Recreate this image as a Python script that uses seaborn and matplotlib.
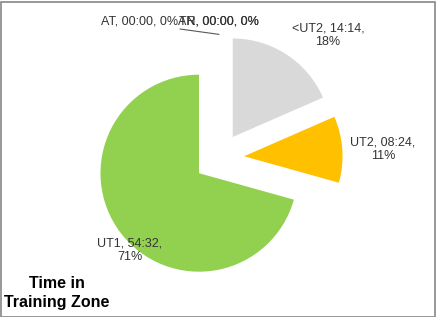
import matplotlib
matplotlib.use("Agg")
import matplotlib.pyplot as plt
import seaborn as sns
import numpy as np

# ---- data ----
categories = ["<UT2", "UT2", "UT1", "AT", "AN", "TR"]
durations = ["14:14", "08:24", "54:32", "00:00", "00:00", "00:00"]
minutes = [14 + 14/60, 8 + 24/60, 54 + 32/60, 0.0, 0.0, 0.0]
colors = ["#D9D9D9", "#FFC000", "#92D050", "#5B9BD5", "#ED7D31", "#A5A5A5"]
title_text = "Time in\nTraining Zone"

sns.set_theme(style="white")
plt.rcParams['font.family'] = ['Liberation Sans', 'DejaVu Sans']

W, H = 437, 317
fig = plt.figure(figsize=(W / 100, H / 100), dpi=100)
ax = fig.add_axes([0, 0, 1, 1])

R_PX = 98.5
CX, CY = 219.0, 158.0


def px(x, y):
    """pixel (y down) -> data coords (radius 1)"""
    return (x - CX) / R_PX, (CY - y) / R_PX


explode = [0.255] * len(minutes)
wedges, _ = ax.pie(minutes, colors=colors, explode=explode, startangle=90,
                   counterclock=False, radius=1.0, center=(0, 0),
                   wedgeprops=dict(linewidth=0))

x0, y1 = px(0, 0)
x1, y0 = px(W, H)
ax.set_xlim(x0, x1)
ax.set_ylim(y0, y1)
ax.set_aspect("equal", adjustable="box")
ax.axis("off")

total = sum(minutes)
labels = [f"{c}, {d}, {round(100 * m / total):.0f}%" for c, d, m in zip(categories, durations, minutes)]

fs = 9
# label placements (pixel centres)
pos = {
    "<UT2": (328, 35),
    "UT2": (383, 149),
    "UT1": (130, 250),
}
for cat, lab in zip(categories, labels):
    if cat in pos:
        parts = lab.split(", ")
        txt = f"{parts[0]}, {parts[1]},\n{parts[2]}"
        ax.text(*px(*pos[cat]), txt, ha="center", va="center", fontsize=fs,
                color="#333333", linespacing=1.2)

# zero-value labels
ax.text(*px(140, 22), labels[3], ha="center", va="center", fontsize=fs, color="#333333")
ax.text(*px(218, 22), labels[4], ha="center", va="center", fontsize=fs, color="#333333")
ax.text(*px(218.6, 22), labels[5], ha="center", va="center", fontsize=fs, color="#333333")

# leader line to the zero slice at top of pie
w_at = wedges[3]
ang = np.deg2rad(w_at.theta1)
ex, ey = w_at.center
tip = (ex + np.cos(ang) * w_at.r, ey + np.sin(ang) * w_at.r)
ax.plot([px(180, 29)[0], tip[0]], [px(180, 29)[1], tip[1]], color="#595959", lw=0.8)

# title
ax.text(*px(57, 293), title_text, ha="center", va="center", fontsize=11.5,
        fontweight="bold", color="black", linespacing=1.3)

# chart border
fig.patches.append(plt.Rectangle((0.5 / W, 0.5 / H), 1 - 2.5 / W, 1 - 2.5 / H,
                                 transform=fig.transFigure, fill=False,
                                 edgecolor="#868686", lw=1.2))

fig.savefig("out.png", dpi=100)
